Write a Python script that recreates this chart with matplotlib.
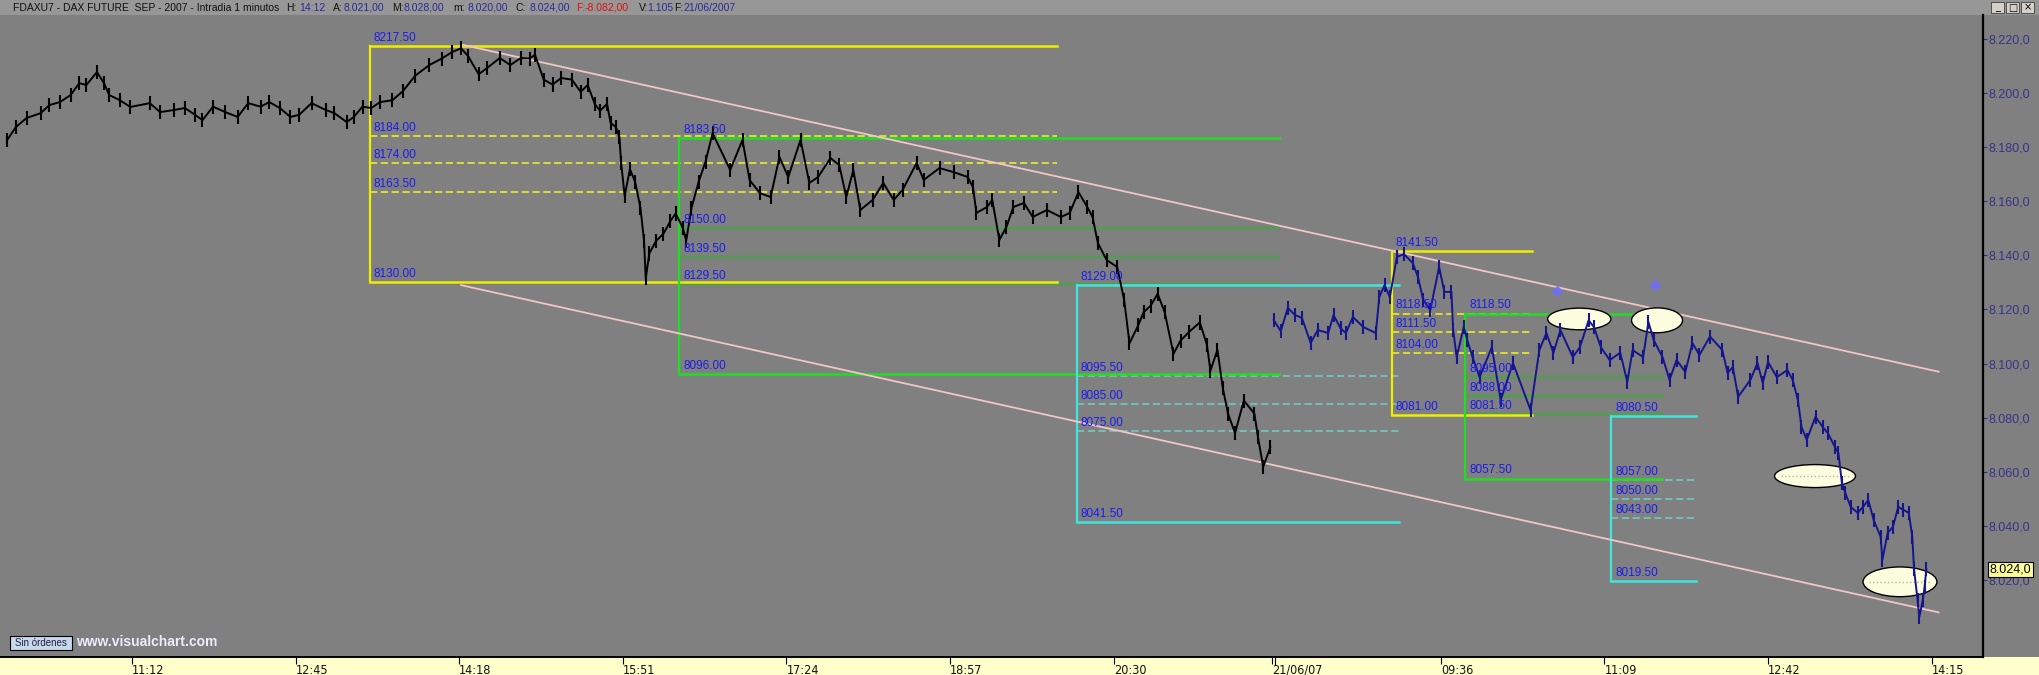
import matplotlib
matplotlib.use("Agg")
import matplotlib.pyplot as plt
from matplotlib import font_manager
from matplotlib.patches import Ellipse, Rectangle

# bar index = minutes from 10:00 on 20/06/07; 21/06/07 opens (08:00) at bar 720
black_x = [1, 6, 12, 20, 25, 31, 37, 42, 46, 52,
           56, 59, 65, 71, 82, 88, 96, 102, 108, 112,
           118, 125, 132, 138, 145, 150, 156, 162, 167, 174,
           182, 187, 194, 198, 203, 208, 213, 220, 226, 233,
           241, 248, 254, 259, 263, 269, 274, 281, 287, 293,
           298, 301, 306, 311, 316, 322, 327, 331, 335, 338,
           342, 344, 347, 349, 350, 352, 355, 358, 361, 363,
           364, 366, 370, 374, 378, 381, 385, 387, 390, 394,
           398, 402, 412, 419, 423, 429, 435, 440, 445, 452,
           457, 462, 469, 474, 478, 482, 486, 493, 499, 505,
           510, 518, 522, 531, 539, 547, 550, 552, 558, 561,
           565, 569, 573, 579, 584, 592, 600, 605, 610, 615,
           618, 621, 626, 632, 636, 639, 644, 647, 651, 655,
           659, 664, 668, 673, 679, 683, 685, 689, 692, 695,
           699, 704, 710, 712, 715, 719]
black_p = [8182.7, 8187.5, 8190.8, 8192.6, 8195.6, 8196.7, 8199.3, 8203.7, 8203.0, 8207.8,
           8203.7, 8199.3, 8197.4, 8194.9, 8196.3, 8193.0, 8193.8, 8194.5, 8191.9, 8190.0,
           8195.0, 8193.0, 8191.2, 8196.3, 8195.0, 8196.7, 8194.5, 8191.2, 8192.0, 8196.3,
           8193.8, 8192.6, 8189.3, 8191.2, 8195.0, 8194.5, 8196.7, 8197.4, 8200.8, 8206.5,
           8210.4, 8212.8, 8215.2, 8216.6, 8213.7, 8207.0, 8209.4, 8213.0, 8210.4, 8213.0,
           8212.8, 8214.2, 8205.0, 8203.2, 8205.6, 8205.0, 8200.5, 8203.0, 8196.0, 8193.5,
           8196.0, 8189.0, 8187.5, 8183.9, 8174.3, 8162.0, 8171.9, 8167.1, 8157.5, 8145.5,
           8131.5, 8140.7, 8145.5, 8147.9, 8152.7, 8155.5, 8150.3, 8145.5, 8157.5, 8167.1,
           8174.7, 8185.2, 8171.6, 8182.7, 8167.9, 8163.0, 8161.6, 8176.4, 8169.0, 8182.7,
           8166.8, 8169.0, 8176.0, 8173.4, 8161.6, 8171.6, 8156.8, 8160.5, 8166.8, 8160.5,
           8164.2, 8174.2, 8167.9, 8172.3, 8170.8, 8169.0, 8165.3, 8155.7, 8157.9, 8160.5,
           8145.7, 8150.5, 8157.9, 8159.4, 8154.2, 8156.8, 8154.2, 8155.7, 8163.4, 8157.9,
           8154.2, 8144.6, 8138.3, 8135.7, 8123.4, 8107.5, 8114.2, 8119.0, 8121.4, 8125.8,
           8119.0, 8103.6, 8108.5, 8111.8, 8115.2, 8107.0, 8097.4, 8105.1, 8091.1, 8081.5,
           8074.3, 8086.3, 8081.5, 8072.9, 8061.8, 8069.0]

blue_x = [721, 725, 729, 733, 737, 742, 746, 752, 755, 759,
          762, 766, 772, 779, 781, 784, 787, 791, 795, 800,
          803, 806, 810, 815, 818, 822, 823, 825, 829, 831,
          834, 838, 845, 850, 857, 867, 872, 876, 880, 884,
          891, 895, 900, 903, 907, 912, 918, 922, 925, 931,
          934, 937, 942, 946, 950, 955, 959, 963, 969, 976,
          979, 982, 985, 992, 996, 999, 1002, 1007, 1013, 1016,
          1019, 1021, 1024, 1029, 1033, 1036, 1040, 1042, 1044, 1046,
          1049, 1053, 1056, 1059, 1062, 1066, 1067, 1070, 1073, 1076,
          1079, 1082, 1084, 1085, 1087, 1088, 1090, 1091, 1092]
blue_p = [8116.1, 8112.0, 8120.6, 8118.0, 8116.9, 8107.6, 8112.4, 8111.3, 8118.0, 8113.0,
          8111.3, 8117.2, 8113.5, 8111.3, 8124.6, 8129.0, 8124.6, 8139.4, 8140.5, 8137.2,
          8132.0, 8123.5, 8119.8, 8135.7, 8126.5, 8126.5, 8112.4, 8102.4, 8113.5, 8108.7,
          8102.4, 8095.0, 8106.0, 8086.5, 8100.2, 8082.8, 8105.0, 8111.3, 8104.0, 8112.4,
          8102.4, 8106.0, 8116.0, 8113.5, 8106.0, 8101.3, 8104.0, 8093.2, 8105.0, 8102.4,
          8115.4, 8108.7, 8102.4, 8094.0, 8101.3, 8096.9, 8107.6, 8103.2, 8110.0, 8105.0,
          8096.5, 8098.7, 8087.7, 8094.0, 8100.2, 8092.8, 8100.6, 8095.0, 8097.6, 8094.0,
          8086.5, 8076.6, 8071.8, 8080.3, 8076.6, 8074.3, 8069.2, 8067.0, 8055.8, 8052.0,
          8047.0, 8044.8, 8047.0, 8049.6, 8042.2, 8036.0, 8027.4, 8037.4, 8039.6, 8047.0,
          8045.9, 8044.8, 8036.0, 8024.0, 8012.6, 8006.3, 8012.6, 8017.4, 8024.0]

# downward channel
chan_x = [259, 1099]
chan_upper = [8218.0, 8097.0]
chan_lower = [8129.0, 8008.0]

# retracement boxes
fib_left = [207, 383, 609, 788, 830, 913]
fib_right = [598, 724, 792, 868, 942, 961]
fib_high = [8217.5, 8183.5, 8129.0, 8141.5, 8118.5, 8080.5]
fib_low = [8130.0, 8096.0, 8041.5, 8081.0, 8057.5, 8019.5]
fib_mid = [[8184.0, 8174.0, 8163.5],
           [8150.0, 8139.5, 8129.5],
           [8095.5, 8085.0, 8075.0],
           [8118.5, 8111.5, 8104.0],
           [8095.0, 8088.0, 8081.5],
           [8057.0, 8050.0, 8043.0]]

# highlighted spots
ell_x = [894.7, 938.9, 1028.7, 1077.0]
ell_y = [8116.5, 8116.0, 8058.4, 8019.3]
ell_w = [36.0, 29.0, 46.0, 42.0]
ell_h = [8.0, 9.2, 8.5, 11.0]
diam_x = [882, 938]
diam_y = [8126.8, 8129.0]

time_ticks = [72, 165, 258, 351, 444, 537, 630, 720, 816, 909, 1002, 1095]
time_labels = ['11:12', '12:45', '14:18', '15:51', '17:24', '18:57', '20:30',
               '21/06/07', '09:36', '11:09', '12:42', '14:15']
price_ticks = list(range(8020, 8221, 20))
last_price = 8024.0

header_parts = [
    (13, "FDAXU7 - DAX FUTURE  SEP - 2007 - Intradia 1 minutos", "#111111"),
    (286, "H:", "#111111"), (299, "14:12", "#2a2a9a"),
    (333, "A:", "#111111"), (344, "8.021,00", "#2a2a9a"),
    (392, "M:", "#111111"), (404, "8.028,00", "#2a2a9a"),
    (453, "m:", "#111111"), (467, "8.020,00", "#2a2a9a"),
    (516, "C:", "#111111"), (529, "8.024,00", "#2a2a9a"),
    (576, "F:", "#e01010"), (585, "-8.082,00", "#e01010"),
    (639, "V:", "#111111"), (647, "1.105", "#2a2a9a"),
    (674, "F:", "#111111"), (683, "21/06/2007", "#2a2a9a"),
]

W, H = 2039, 675
GRAY = "#808080"
names = {f.name for f in font_manager.fontManager.ttflist}
HAS_NARROW = "Liberation Sans Narrow" in names
plt.rcParams["font.family"] = ["Liberation Sans", "DejaVu Sans"]

fig = plt.figure(figsize=(W / 100, H / 100), dpi=100, facecolor=GRAY)
ax = fig.add_axes([0, 18 / H, 1983 / W, (657 - 15) / H])
ax.set_facecolor(GRAY)
ax.set_xlim(-3.1, 1124.2)
ax.set_ylim(7991.5, 8228.9)

# retracement boxes
box_col = ["#eeee00", "#22dd22", "#3ee6dc", "#eeee00", "#22dd22", "#3ee6dc"]
mid_col = ["#e4e430", "#5c965c", "#72c4be", "#e4e430", "#5c965c", "#72c4be"]
mid_ls = [(0, (4, 2)), "-", (0, (4, 2)), (0, (4, 2)), "-", (0, (4, 2))]
mid_lw = [1.3, 2.6, 1.3, 1.3, 2.6, 1.3]
lab_kw = dict(textcoords="offset points", xytext=(3, 1.5), ha="left", va="bottom",
              fontsize=8.5, color="#1c1cf0", zorder=6)
for i in range(len(fib_left)):
    x0, x1 = fib_left[i], fib_right[i]
    c = box_col[i]
    for lv in fib_mid[i]:
        ax.plot([x0, x1], [lv, lv], color=mid_col[i], lw=mid_lw[i], ls=mid_ls[i], zorder=2)
    ax.plot([x0, x0], [fib_low[i], fib_high[i]], color=c, lw=1.6, zorder=2.1)
    ax.plot([x0, x1], [fib_high[i], fib_high[i]], color=c, lw=1.8, zorder=2.1)
    ax.plot([x0, x1], [fib_low[i], fib_low[i]], color=c, lw=1.8, zorder=2.1)
    for lv in [fib_high[i]] + fib_mid[i] + [fib_low[i]]:
        ax.annotate(f"{lv:.2f}", (x0, lv), **lab_kw)

# channel
ax.plot(chan_x, chan_upper, color="#f2c6c6", lw=1.3, zorder=2.5)
ax.plot(chan_x, chan_lower, color="#f2c6c6", lw=1.3, zorder=2.5)

# ellipses
for i in range(len(ell_x)):
    ax.add_patch(Ellipse((ell_x[i], ell_y[i]), ell_w[i], ell_h[i], fc="#fcfcde",
                         ec="black", lw=1.0, zorder=3))
for i in [2, 3]:
    ax.plot([ell_x[i] - ell_w[i] * 0.42, ell_x[i] + ell_w[i] * 0.42], [ell_y[i], ell_y[i]],
            color="#b8b89a", lw=1, ls=":", zorder=3.2)


def draw_bars(xs, ps, color):
    ax.plot(xs, ps, color=color, lw=1.4, zorder=4)
    ax.vlines(xs, [p - 2.6 for p in ps], [p + 2.6 for p in ps], color=color, lw=1.5, zorder=4)


draw_bars(black_x, black_p, "#000000")
draw_bars(blue_x, blue_p, "#16168c")

ax.plot(diam_x, diam_y, "D", color="#6e6eff", ms=6, mec="none", alpha=0.85, zorder=5)

# axes styling
for s in ["left", "top"]:
    ax.spines[s].set_visible(False)
ax.spines["right"].set_linewidth(1.6)
ax.spines["bottom"].set_linewidth(1.4)

ax.yaxis.tick_right()
ax.set_yticks(price_ticks)
ax.set_yticklabels([f"{v:,.1f}".replace(",", "X").replace(".", ",").replace("X", ".")
                    for v in price_ticks])
ax.tick_params(axis="y", direction="out", length=3, color="#303080", labelcolor="#34348a",
               labelsize=9, pad=1)

ax.set_xticks(time_ticks)
if HAS_NARROW:
    ax.set_xticklabels(time_labels, fontfamily="Liberation Sans Narrow", fontsize=10)
else:
    ax.set_xticklabels(time_labels, fontfamily="DejaVu Sans", fontstretch="condensed",
                       fontsize=9)
ax.tick_params(axis="x", direction="out", length=5, color="black", labelcolor="#111111", pad=0)
for lab in ax.get_xticklabels():
    lab.set_ha("left")
ax.vlines([721.6], -0.012, 0, transform=ax.get_xaxis_transform(), color="black",
          lw=0.8, clip_on=False)

# last price flag
ax.annotate(f"{last_price:,.1f}".replace(",", "X").replace(".", ",").replace("X", "."),
            xy=(1.0, last_price), xycoords=ax.get_yaxis_transform(), xytext=(5, 0),
            textcoords="offset points", ha="left", va="center", fontsize=9, color="black",
            bbox=dict(boxstyle="square,pad=0.12", fc="#ffff99", ec="black", lw=0.8),
            annotation_clip=False, zorder=10)


def fx(x):
    return x / W


def fy(y):
    return 1 - y / H


# bottom time band and header bar
fig.add_artist(Rectangle((0, 0), 1, 18 / H, transform=fig.transFigure, fc="#ffffcc",
                         ec="none", zorder=-1))
fig.add_artist(Rectangle((0, fy(15)), 1, 15 / H, transform=fig.transFigure, fc="#979797",
                         ec="none", zorder=-1))
for x, s, c in header_parts:
    fig.text(fx(x), fy(8), s, color=c, fontsize=7.5, va="center", ha="left")

# window buttons
for i, sym in enumerate(["_", "□", "×"]):
    x0 = 1991 + i * 15
    fig.add_artist(Rectangle((fx(x0), fy(13)), 13 / W, 11 / H, transform=fig.transFigure,
                             fc="#d4d0c8", ec="#404040", lw=0.6))
    fig.text(fx(x0 + 6.5), fy(7.5), sym, fontsize=7, ha="center", va="center",
             color="black", family="DejaVu Sans")

# bottom-left widgets
fig.add_artist(Rectangle((fx(10), fy(650)), 62 / W, 14 / H, transform=fig.transFigure,
                         fc="#c6d8ec", ec="black", lw=0.8))
fig.text(fx(41), fy(643), "Sin órdenes", fontsize=7, ha="center", va="center",
         color="#202040")
fig.text(fx(76), fy(642), "www.visualchart.com", fontsize=10, fontweight="bold",
         ha="left", va="center", color="#ececff")

fig.savefig("out.png", dpi=100, facecolor=GRAY)
